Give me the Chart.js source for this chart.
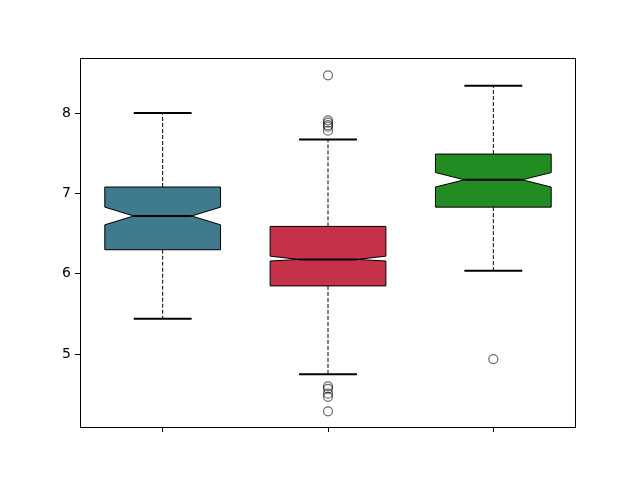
<!DOCTYPE html>
<html>
<head>
<meta charset="utf-8">
<script src="https://cdn.jsdelivr.net/npm/chart.js@4"></script>
<style>
  body { margin: 0; background: #fff; }
  #chart { display: block; }
</style>
</head>
<body>
<canvas id="chart" width="640" height="480"></canvas>
<script>
// Box stats
const categories = [1, 2, 3];
const whiskerLow = [5.44, 4.75, 6.04];
const q1 = [6.30, 5.85, 6.83];
const notchLow = [6.61, 6.16, 7.08];
const median = [6.72, 6.18, 7.17];
const notchHigh = [6.83, 6.22, 7.26];
const q3 = [7.08, 6.59, 7.49];
const whiskerHigh = [8.00, 7.67, 8.34];
const outliers = [
    [],
    [8.47, 7.91, 7.88, 7.85, 7.83, 7.78, 4.60, 4.57, 4.51, 4.47, 4.29],
    [4.94]
];
const yTicks = [5, 6, 7, 8];
const boxColors = ['#3f7b8c', '#c43148', '#228b22'];

const BOX_W = 0.7;

// outlier points as x/y pairs
const flierPoints = [];
categories.forEach((c, i) => {
    outliers[i].forEach(v => flierPoints.push({ x: c, y: v }));
});

const boxPlugin = {
    id: 'boxes',
    beforeDatasetsDraw(chart) {
        const ctx = chart.ctx;
        const xs = chart.scales.x;
        const ys = chart.scales.y;
        ctx.save();
        categories.forEach((c, i) => {
            const left = xs.getPixelForValue(c - BOX_W / 2);
            const right = xs.getPixelForValue(c + BOX_W / 2);
            const mid = xs.getPixelForValue(c);
            const inset = (right - left) / 4;
            const capL = xs.getPixelForValue(c - BOX_W / 4);
            const capR = xs.getPixelForValue(c + BOX_W / 4);
            const yQ1 = ys.getPixelForValue(q1[i]);
            const yQ3 = ys.getPixelForValue(q3[i]);
            const yMed = ys.getPixelForValue(median[i]);
            const yNl = ys.getPixelForValue(notchLow[i]);
            const yNh = ys.getPixelForValue(notchHigh[i]);
            const yWl = ys.getPixelForValue(whiskerLow[i]);
            const yWh = ys.getPixelForValue(whiskerHigh[i]);

            // whiskers
            ctx.strokeStyle = '#000';
            ctx.lineWidth = 1;
            ctx.setLineDash([4, 2]);
            ctx.beginPath();
            ctx.moveTo(mid, yQ1); ctx.lineTo(mid, yWl);
            ctx.moveTo(mid, yQ3); ctx.lineTo(mid, yWh);
            ctx.stroke();
            ctx.setLineDash([]);

            // caps
            ctx.lineWidth = 2;
            ctx.beginPath();
            ctx.moveTo(capL, yWl); ctx.lineTo(capR, yWl);
            ctx.moveTo(capL, yWh); ctx.lineTo(capR, yWh);
            ctx.stroke();

            // notched box
            ctx.beginPath();
            ctx.moveTo(left, yQ1);
            ctx.lineTo(right, yQ1);
            ctx.lineTo(right, yNl);
            ctx.lineTo(right - inset, yMed);
            ctx.lineTo(right, yNh);
            ctx.lineTo(right, yQ3);
            ctx.lineTo(left, yQ3);
            ctx.lineTo(left, yNh);
            ctx.lineTo(left + inset, yMed);
            ctx.lineTo(left, yNl);
            ctx.closePath();
            ctx.fillStyle = boxColors[i];
            ctx.fill();
            ctx.lineWidth = 1;
            ctx.stroke();

            // median
            ctx.lineWidth = 2;
            ctx.beginPath();
            ctx.moveTo(left + inset, yMed);
            ctx.lineTo(right - inset, yMed);
            ctx.stroke();
        });
        ctx.restore();
    },
    afterDraw(chart) {
        const a = chart.chartArea;
        const ctx = chart.ctx;
        ctx.save();
        ctx.strokeStyle = '#000';
        ctx.lineWidth = 1;
        ctx.strokeRect(Math.round(a.left) + 0.5, Math.round(a.top) + 0.5,
            Math.round(a.right - a.left) - 1, Math.round(a.bottom - a.top));
        ctx.restore();
    }
};

new Chart(document.getElementById('chart'), {
    type: 'scatter',
    data: {
        datasets: [{
            data: flierPoints,
            pointStyle: 'circle',
            pointRadius: 4.5,
            pointBackgroundColor: 'rgba(0,0,0,0)',
            pointBorderColor: 'rgba(0,0,0,0.6)',
            pointBorderWidth: 1.2
        }]
    },
    options: {
        responsive: false,
        animation: false,
        layout: { padding: { top: 58, right: 64, left: 0, bottom: 0 } },
        plugins: { legend: { display: false }, tooltip: { enabled: false } },
        scales: {
            x: {
                type: 'linear',
                min: 0.5,
                max: 3.5,
                afterBuildTicks: axis => { axis.ticks = categories.map(v => ({ value: v })); },
                afterFit: axis => { axis.height = 53; },
                grid: { drawOnChartArea: false, tickLength: 5, tickColor: '#000', tickWidth: 1 },
                border: { display: false },
                ticks: { callback: () => '', padding: 0 }
            },
            y: {
                min: 4.095,
                max: 8.685,
                afterBuildTicks: axis => { axis.ticks = yTicks.map(v => ({ value: v })); },
                afterFit: axis => { axis.width = 80; },
                grid: { drawOnChartArea: false, tickLength: 5, tickColor: '#000', tickWidth: 1 },
                border: { display: false },
                ticks: {
                    color: '#000',
                    padding: 4,
                    font: { family: 'DejaVu Sans', size: 14 },
                    callback: v => String(v)
                }
            }
        }
    },
    plugins: [boxPlugin]
});
</script>
</body>
</html>
